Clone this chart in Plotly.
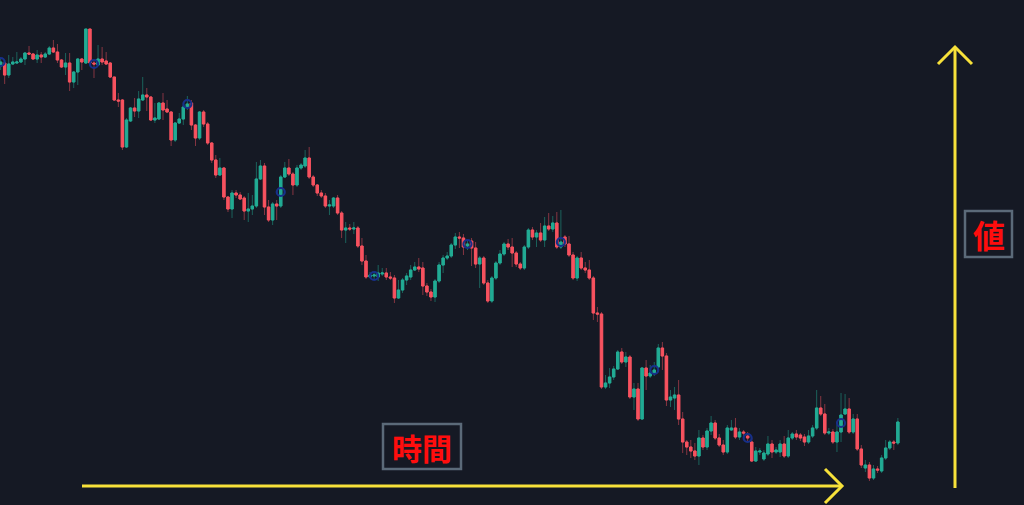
import plotly.graph_objects as go

# candle values (index units)
open_ = [934,937,925,936,937,938,941,947,946,941, 945,943,946,952,948,940,933,937,918,928,
         941,937,971,937,935,941,939,937,923,900, 900,853,879,892,889,900,905,903,880,881,
         897,891,888,860,877,881,893,897,875,862, 888,876,857,840,825,832,803,791,807,805,
         802,789,791,794,821,834,793,780,796,794, 823,832,826,815,832,834,842,823,815,807,
         804,794,794,802,787,770,772,771,772,754, 739,723,724,723,726,727,723,722,702,710,
         720,723,730,733,732,714,708,703,719,735, 742,744,755,763,762,754,759,752,736,742,
         717,699,722,737,746,756,753,747,736,732, 753,770,763,767,760,774,771,777,753,763,
         756,745,722,742,732,730,722,687,686,613, 617,623,631,648,638,643,603,611,581,632,
         624,627,633,652,644,600,602,605,581,558, 553,549,544,562,553,569,577,562,555,548,
         570,572,563,568,564,558,539,548,541,546, 556,548,548,556,544,562,566,565,563,558,
         564,572,592,586,567,568,558,568,586,591, 568,581,551,532,535,522,531,529,542,552,
         558,557]
close = [938,925,936,938,938,941,947,946,941,945, 943,946,952,948,940,933,937,918,928,941,
         938,971,937,936,941,938,936,923,900,899, 853,880,892,889,901,905,903,880,882,897,
         890,888,860,877,881,893,896,875,862,888, 876,857,840,825,832,803,791,807,805,801,
         789,791,794,821,834,793,780,796,794,823, 832,826,815,832,835,842,823,815,807,804,
         794,795,802,787,770,772,771,772,754,739, 723,725,725,727,727,723,722,702,710,720,
         724,730,733,731,714,708,703,719,735,742, 744,755,763,762,753,756,752,736,742,717,
         699,722,737,746,756,753,747,736,732,753, 770,763,767,760,774,771,777,753,758,756,
         745,722,742,732,730,722,687,686,613,617, 623,631,648,638,643,603,611,581,632,624,
         627,630,652,644,600,603,605,581,558,553, 549,544,562,553,569,577,562,555,548,572,
         572,563,568,567,562,539,549,549,547,556, 548,550,556,544,562,566,563,562,558,564,
         572,592,586,567,568,558,568,585,591,568, 581,551,535,535,522,531,530,542,552,558,
         557,578]
high = [942,940,945,943,948,943,948,954,947,950, 948,948,954,960,956,941,947,947,929,942,
        942,971,971,940,955,953,948,938,923,907, 901,882,893,902,909,923,912,904,897,898,
        907,900,889,878,887,895,904,900,876,889, 890,878,858,845,842,833,804,810,810,808,
        804,807,805,838,840,837,800,798,800,825, 838,841,828,835,837,850,853,825,816,810,
        807,800,803,805,789,778,776,778,774,762, 745,728,728,735,732,732,728,725,720,722,
        727,735,738,742,738,717,711,721,738,745, 748,757,767,768,766,760,762,758,744,744,
        720,724,739,750,758,761,762,749,738,755, 772,773,770,777,783,787,784,788,790,765,
        764,748,744,748,738,740,724,693,688,625, 632,634,650,652,648,645,617,617,633,640,
        635,638,656,658,647,610,613,620,588,560, 560,557,570,565,572,584,580,566,560,575,
        580,582,572,570,568,562,553,552,550,564, 560,553,560,564,570,568,570,567,566,570,
        575,610,604,596,572,571,575,607,606,602, 586,586,555,540,538,535,534,545,560,560,
        560,582]
low = [930,916,922,935,936,937,935,945,940,937, 937,942,945,947,937,932,925,909,912,915,
       930,936,936,922,934,935,935,922,899,893, 850,852,878,883,882,899,889,879,877,880,
       880,887,854,858,876,875,890,870,854,860, 873,855,837,822,824,800,788,782,802,800,
       780,778,785,792,820,785,778,775,780,792, 822,824,805,813,830,832,821,813,804,802,
       792,785,792,785,762,757,769,766,752,735, 721,722,720,719,724,720,720,697,701,707,
       715,720,729,728,705,704,699,698,717,727, 740,742,751,752,745,750,734,732,712,715,
       697,697,720,735,744,750,733,733,730,730, 751,760,753,758,753,769,768,751,751,753,
       743,720,719,730,727,720,680,678,611,611, 612,620,630,636,633,601,590,579,580,610,
       622,624,631,630,594,593,590,575,547,545, 542,540,535,550,550,565,560,553,545,546,
       569,561,560,564,558,538,538,545,539,544, 542,546,543,542,542,560,560,559,554,556,
       562,570,584,565,565,556,548,558,585,566, 566,549,532,528,519,520,527,527,540,550,
       550,555]
bars = list(range(len(close)))

marker_bars = [0, 23, 46, 69, 92, 115, 138, 161, 184, 207]
marker_vals = [938, 936, 896, 808, 724, 756, 758, 630, 562, 577]

label_time = "時間"
label_value = "値"

BG = "#151924"
UP = "#22ab94"
DN = "#f7525f"
UP_DIM = "rgba(34,171,148,0.5)"
DN_DIM = "rgba(247,82,95,0.5)"
YELLOW = "#f7e13a"
BOXC = "#5b6a79"

W, H = 1024, 505

fig = go.Figure()
# wicks (dim)
fig.add_trace(go.Candlestick(
    x=bars, open=open_, high=high, low=low, close=close,
    increasing=dict(line=dict(color=UP_DIM, width=1), fillcolor=UP_DIM),
    decreasing=dict(line=dict(color=DN_DIM, width=1), fillcolor=DN_DIM),
    whiskerwidth=0, showlegend=False, hoverinfo="skip"))
# bodies (bright)
body_hi = [max(o, c) for o, c in zip(open_, close)]
body_lo = [min(o, c) for o, c in zip(open_, close)]
fig.add_trace(go.Candlestick(
    x=bars, open=open_, high=body_hi, low=body_lo, close=close,
    increasing=dict(line=dict(color=UP, width=1), fillcolor=UP),
    decreasing=dict(line=dict(color=DN, width=1), fillcolor=DN),
    whiskerwidth=0, showlegend=False))
fig.add_trace(go.Scatter(
    x=marker_bars, y=marker_vals, mode="markers",
    marker=dict(symbol="circle-open", size=8, color="#17308a", line=dict(width=2.2)),
    showlegend=False, hoverinfo="skip"))


def px(x):
    return x / W


def py(y):
    return 1 - y / H


def path(points):
    return "M " + " L ".join(f"{px(a):.5f},{py(b):.5f}" for a, b in points)


shapes = [
    dict(type="path", path=path([(82, 486), (842, 486)]), line=dict(color=YELLOW, width=3)),
    dict(type="path", path=path([(825, 469), (842, 486), (825, 503)]), line=dict(color=YELLOW, width=3)),
    dict(type="path", path=path([(955, 488), (955, 47)]), line=dict(color=YELLOW, width=3)),
    dict(type="path", path=path([(938, 64), (955, 47), (972, 64)]), line=dict(color=YELLOW, width=3)),
    dict(type="rect", x0=px(383), x1=px(461), y0=py(424), y1=py(469), line=dict(color=BOXC, width=2.5)),
    dict(type="rect", x0=px(965), x1=px(1012), y0=py(211), y1=py(257), line=dict(color=BOXC, width=2.5)),
]
for s in shapes:
    s.update(xref="paper", yref="paper", layer="above")

annotations = [
    dict(text=f"<b>{label_time}</b>", x=px(422), y=py(446.5), xref="paper", yref="paper",
         showarrow=False, xanchor="center", yanchor="middle",
         font=dict(family="Noto Sans CJK JP", size=30, color="#ff0d0d")),
    dict(text=f"<b>{label_value}</b>", x=px(988.5), y=py(234), xref="paper", yref="paper",
         showarrow=False, xanchor="center", yanchor="middle",
         font=dict(family="Noto Sans CJK JP", size=32, color="#ff0d0d")),
]

fig.update_layout(
    width=W, height=H,
    margin=dict(l=0, r=0, t=0, b=0),
    paper_bgcolor=BG, plot_bgcolor=BG,
    shapes=shapes, annotations=annotations,
    boxmode="overlay", boxgap=0.15,
    xaxis=dict(range=[-0.15, 252.07], visible=False, showgrid=False, zeroline=False,
               rangeslider=dict(visible=False)),
    yaxis=dict(range=[495, 1000], visible=False, showgrid=False, zeroline=False),
    hovermode=False,
)

fig.write_html(
    "out.html",
    config={"displayModeBar": False},
    post_script=f"document.body.style.margin='0';document.body.style.background='{BG}';document.body.style.overflow='hidden';",
)
